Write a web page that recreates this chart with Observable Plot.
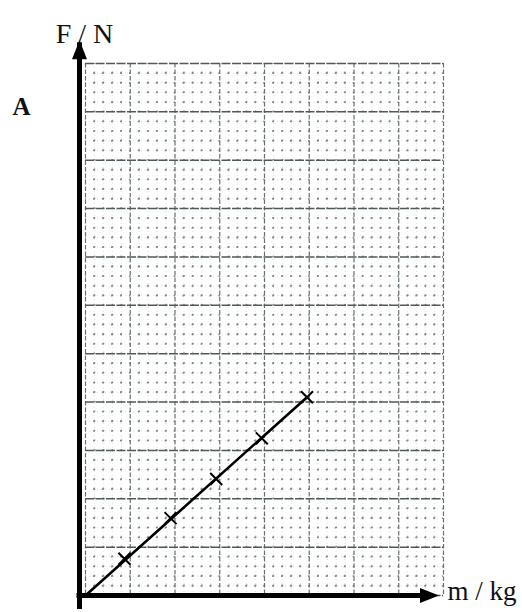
<!DOCTYPE html>
<html>
<head>
<meta charset="utf-8">
<script src="https://cdn.jsdelivr.net/npm/d3@7"></script>
<script src="https://cdn.jsdelivr.net/npm/@observablehq/plot@0.6"></script>
<style>
  html, body { margin: 0; padding: 0; background: #ffffff; }
  #chart svg { display: block; overflow: visible; }
</style>
</head>
<body>
<div id="chart"></div>
<script>
// ---- data (in large-square grid units) ----
const massValues  = [0.87, 1.9, 2.92, 3.94, 4.95];   // m / kg
const forceValues = [0.76, 1.6, 2.41, 3.25, 4.1];    // F / N

// grid paper: 8 large squares across, 11 up, each split into 5
const xMajorTicks = [0, 1, 2, 3, 4, 5, 6, 7, 8];
const yMajorTicks = [0, 1, 2, 3, 4, 5, 6, 7, 8, 9, 10, 11];
const subdivisions = 5;

const xLabel = "m / kg";
const yLabel = "F / N";
const panelLabel = "A";

// ---- layout ----
const W = 522, H = 612;
const M = {left: 85, right: 79, top: 63, bottom: 17};

// ---- derived tables ----
const points = massValues.map((m, i) => ({m, F: forceValues[i]}));
const fitLine = [{m: 0, F: 0}, points[points.length - 1]];
const xMax = xMajorTicks[xMajorTicks.length - 1];
const yMax = yMajorTicks[yMajorTicks.length - 1];
const minor = (ticks) => d3.range(0, ticks.length - 1 + 1e-9, 1 / subdivisions)
  .filter(v => Math.abs(v - Math.round(v)) > 1e-6);
const xMinorTicks = minor(xMajorTicks);
const yMinorTicks = minor(yMajorTicks);
const xTip = xMax - 0.1;
const yTip = yMax + 0.48;

// pixel pitch of the small squares, so dotted lines put their dots on intersections
const xPitch = (W - M.left - M.right) / xMax / subdivisions;
const yPitch = (H - M.top - M.bottom) / yMax / subdivisions;
const dotLen = 1.6;

// filled arrowhead pointing up, tip at the anchor
const arrowHead = {
  draw(ctx) {
    ctx.moveTo(0, 0);
    ctx.lineTo(-7.5, 19);
    ctx.lineTo(7.5, 19);
    ctx.closePath();
  }
};

const serif = "'Liberation Serif', 'DejaVu Serif', serif";

const chart = Plot.plot({
  width: W,
  height: H,
  marginLeft: M.left,
  marginRight: M.right,
  marginTop: M.top,
  marginBottom: M.bottom,
  style: {background: "#ffffff", overflow: "visible"},
  x: {domain: [0, xMax], axis: null},
  y: {domain: [0, yMax], axis: null},
  marks: [
    // minor grid: faint lines plus dots at the small-square corners
    Plot.ruleX(xMinorTicks, {stroke: "#a9b4ad", strokeWidth: 0.8, strokeDasharray: "1,3", strokeOpacity: 0.45}),
    Plot.ruleY(yMinorTicks, {stroke: "#a9b4ad", strokeWidth: 0.8, strokeDasharray: "1,3", strokeOpacity: 0.45}),
    Plot.ruleX(xMinorTicks, {stroke: "#7f8b84", strokeWidth: 1.6, strokeDasharray: `${dotLen},${yPitch - dotLen}`, strokeDashoffset: dotLen / 2}),
    Plot.ruleY(yMinorTicks, {stroke: "#7f8b84", strokeWidth: 1.6, strokeDasharray: `${dotLen},${xPitch - dotLen}`, strokeDashoffset: dotLen / 2}),
    // major grid (dashed print lines)
    Plot.ruleX(xMajorTicks, {stroke: "#66716a", strokeWidth: 1.2, strokeDasharray: "4.5,2"}),
    Plot.ruleY(yMajorTicks, {stroke: "#4f5a53", strokeWidth: 1.5, strokeDasharray: "9,1.5"}),
    // axes
    Plot.ruleX([0], {y1: 0, y2: yTip, stroke: "#000", strokeWidth: 5, dx: -6, insetTop: 14, insetBottom: -2.5}),
    Plot.ruleY([0], {x1: 0, x2: xTip, stroke: "#000", strokeWidth: 5, insetLeft: -8.5, insetRight: 12}),
    Plot.dot([{x: 0, y: yTip}], {x: "x", y: "y", symbol: arrowHead, fill: "#000", stroke: "none", dx: -6}),
    Plot.dot([{x: xTip, y: 0}], {x: "x", y: "y", symbol: arrowHead, fill: "#000", stroke: "none", rotate: 90}),
    // data
    Plot.line(fitLine, {x: "m", y: "F", stroke: "#000", strokeWidth: 2.6}),
    Plot.dot(points, {x: "m", y: "F", symbol: "times", r: 5.5, stroke: "#000", strokeWidth: 2}),
    // labels
    Plot.text([yLabel], {frameAnchor: "top-left", dx: -1, dy: -40, text: d => d, textAnchor: "middle",
      fontSize: 28, fontFamily: serif, fill: "#111"}),
    Plot.text([xLabel], {frameAnchor: "bottom-right", dx: 4, dy: 4, text: d => d, textAnchor: "start",
      fontSize: 27, fontFamily: serif, fill: "#111"}),
    Plot.text([panelLabel], {frameAnchor: "top-left", dx: -64, dy: 34, text: d => d, textAnchor: "middle",
      fontSize: 25, fontWeight: "bold", fontFamily: serif, fill: "#111"})
  ]
});

document.getElementById("chart").appendChild(chart);
</script>
</body>
</html>
